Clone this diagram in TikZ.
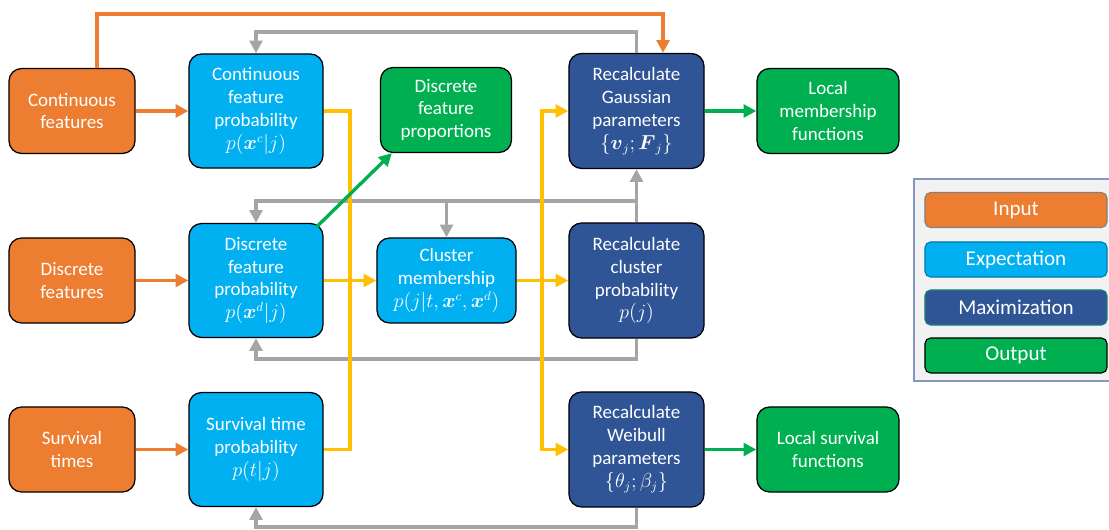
\documentclass[tikz,border=0pt]{standalone}
\usepackage{amsmath}
\usepackage{fontspec}
\setmainfont{Carlito}
\usepackage{tikz}
\usetikzlibrary{arrows.meta, calc}
\definecolor{emorange}{RGB}{237,125,49}
\definecolor{emcyan}{RGB}{0,176,240}
\definecolor{emblue}{RGB}{47,85,151}
\definecolor{emgreen}{RGB}{0,176,80}
\definecolor{emgray}{RGB}{165,165,165}
\definecolor{emyellow}{RGB}{255,192,0}
\definecolor{emframe}{RGB}{132,150,190}
\definecolor{emlegbg}{RGB}{242,242,242}

\tikzset{
  box/.style={draw=black, line width=0.9pt, rounded corners=9pt, text=white,
    align=center, inner sep=2pt, font=\fontsize{13.5}{16.3}\selectfont},
  inbox/.style={box, fill=emorange, minimum width=3.15cm, minimum height=2.125cm},
  ebox/.style={box, fill=emcyan, minimum width=3.35cm, minimum height=2.85cm},
  mbox/.style={box, fill=emblue, minimum width=3.375cm, minimum height=2.875cm},
  obox/.style={box, fill=emgreen, minimum width=3.375cm, minimum height=2.125cm},
  legitem/.style={rounded corners=4pt, line width=0.8pt, text=white,
    minimum width=4.55cm, minimum height=0.875cm, font=\fontsize{15}{18}\selectfont},
  tip/.style={-{Triangle[length=3.2mm, width=3.2mm]}},
  inline/.style={emorange, line width=2.4pt},
  fbline/.style={emgray, line width=2.4pt},
  eline/.style={emyellow, line width=2.4pt},
  oline/.style={emgreen, line width=2.4pt}
}

\begin{document}
\begin{tikzpicture}[x=0.025cm, y=-0.025cm]
\useasboundingbox (0,0) rectangle (1109,530);

% === Inputs ===
\node[inbox] (cfeat) at (72,111) {Continuous\\features};
\node[inbox] (dfeat) at (72,280.5) {Discrete\\features};
\node[inbox] (stime) at (72,449.5) {Survival\\times};

% === Expectation ===
\node[ebox] (cprob) at (256,111) {Continuous\\feature\\probability\\$p(\boldsymbol{x}^c|j)$};
\node[ebox] (dprob) at (256,280.5) {Discrete\\feature\\probability\\$p(\boldsymbol{x}^d|j)$};
\node[ebox] (sprob) at (256,449.5) {Survival time\\probability\\$p(t|j)$};
\node[ebox, minimum width=3.475cm, minimum height=2.125cm] (cmem) at (446.5,280.5)
     {Cluster\\membership\\$p(j|t,\boldsymbol{x}^c,\boldsymbol{x}^d)$};

% === Maximization ===
\node[mbox] (gauss) at (636.5,111) {Recalculate\\Gaussian\\parameters\\$\{\boldsymbol{v}_j;\boldsymbol{F}_j\}$};
\node[mbox] (cprobj) at (636.5,280.5) {Recalculate\\cluster\\probability\\$p(j)$};
\node[mbox] (weib) at (636.5,449.5) {Recalculate\\Weibull\\parameters\\$\{\theta_j;\beta_j\}$};

% === Outputs ===
\node[obox, minimum width=3.275cm] (dprop) at (446,110) {Discrete\\feature\\proportions};
\node[obox, minimum width=3.55cm] (lmem) at (828,111) {Local\\membership\\functions};
\node[obox, minimum width=3.55cm] (lsurv) at (828,449.5) {Local survival\\functions};

% Feedback (gray)
\coordinate (gtop) at (0,32);
\coordinate (gmid) at (0,201);
\coordinate (glow) at (0,359);
\coordinate (gbot) at (0,527);
\draw[fbline, tip] (gauss.north) -- (gauss.north |- gtop) -| (cprob.north);
\draw[fbline, tip] (cprobj.north) -- (gauss.south);
\draw[fbline, tip] (cprobj.north |- gmid) -| (dprob.north);
\draw[fbline, tip] (cmem.north |- gmid) -- (cmem.north);
\draw[fbline, tip] (cprobj.south) |- (dprob.south |- glow) -- (dprob.south);
\draw[fbline, tip] (weib.south) |- (sprob.south |- gbot) -- (sprob.south);

% Expectation flow (yellow)
\coordinate (ya) at (350,0);
\coordinate (yb) at (542,0);
\draw[eline] (cprob.east) -| (ya |- sprob) -- (sprob.east);
\draw[eline, tip] (dprob) -- (cmem);
\draw[eline, tip] (cmem) -- (cprobj);
\draw[eline, tip] (yb |- cmem) |- (gauss.west);
\draw[eline, tip] (yb |- cmem) |- (weib.west);

% Inputs (orange)
\coordinate (otop) at (663,14);
\draw[inline, tip] (cfeat) -- (cprob);
\draw[inline, tip] (dfeat) -- (dprob);
\draw[inline, tip] (stime) -- (sprob);
\draw[inline, tip] ($(cfeat.north)+(25,0)$) |- (otop) -- (otop |- gauss.north);

% Outputs (green)
\draw[oline, tip] ($(dprob.north east)+(-7,4)$) -- ($(dprop.south west)+(12,0)$);
\draw[oline, tip] (gauss) -- (lmem);
\draw[oline, tip] (weib) -- (lsurv);

% === Legend ===
\draw[emframe, fill=emlegbg, line width=1pt] (914,179) rectangle (1125,381);
\node[legitem, draw=gray, fill=emorange] (lgin) at (1016,210) {Input};
\node[legitem, draw=emcyan!70!black, fill=emcyan] (lgexp) at (1016,259.5) {Expectation};
\node[legitem, draw=emgreen!50!emblue, fill=emblue] (lgmax) at (1016,307.5) {Maximization};
\node[legitem, draw=black, fill=emgreen] (lgout) at (1016,355.5) {Output};

\end{tikzpicture}
\end{document}
